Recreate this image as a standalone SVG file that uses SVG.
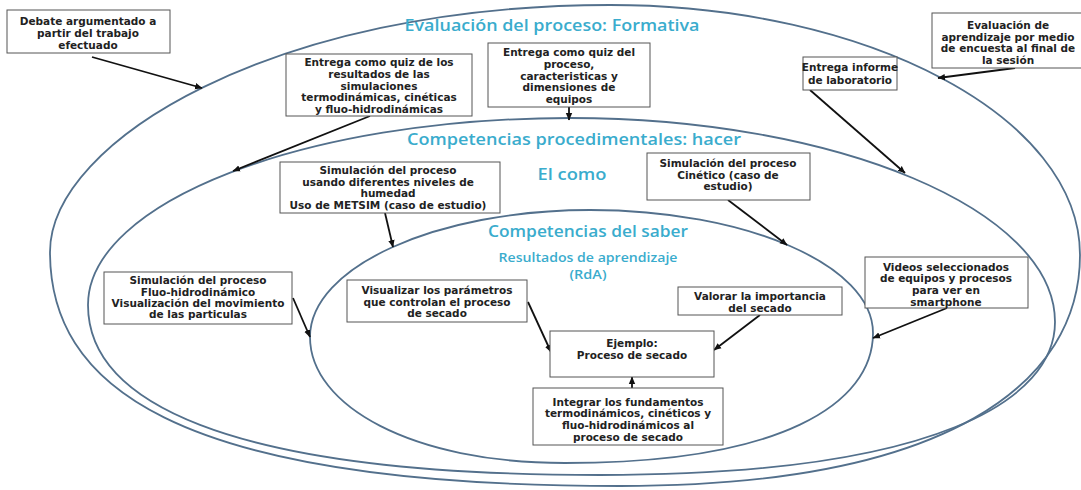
<svg xmlns="http://www.w3.org/2000/svg" width="1081" height="490" viewBox="0 0 1081 490">
<defs>
<style>
.ring{fill:none;stroke:#53708c;stroke-width:1.8}
.box{fill:#fff;stroke:#555;stroke-width:1}
.bt{font-family:"DejaVu Sans",Verdana,sans-serif;font-weight:bold;font-size:10.5px;fill:#222;text-anchor:middle}
.title{font-family:"Open Sans","Noto Sans",sans-serif;font-weight:600;fill:#3aaccd;text-anchor:middle}
.conn{fill:none;stroke:#111;stroke-width:1.8}
</style>
<marker id="ah" markerUnits="userSpaceOnUse" markerWidth="8" markerHeight="8" refX="7" refY="4" orient="auto">
<path d="M0,0.8 L7.5,4 L0,7.2 Z" fill="#111"/>
</marker>
</defs>
<rect width="1081" height="490" fill="#fff"/>
<g id="rings">
<path id="ring-evaluacion" class="ring" d="M50,252 C50,141 274,5 610,5 C868,5 1080,117 1080,255 C1080,382 951,486 620,486 C164,486 50,381 50,252 Z"/>
<path id="ring-procedimental" class="ring" d="M88,305 C88,202 305,118 570,118 C837,118 1055,210 1055,322 C1055,398 941,475 600,475 C216,475 88,398 88,305 Z"/>
<path id="ring-saber" class="ring" d="M310,337 C310,267 436,210 590,210 C746,210 873,265 873,333 C873,404 781,463 565,463 C412,463 310,406 310,337 Z"/>
</g>
<g id="titles">
<text class="title" x="552" y="31" font-size="15.5" textLength="295" lengthAdjust="spacingAndGlyphs">Evaluación del proceso: Formativa</text>
<text class="title" x="574" y="145" font-size="15.5" textLength="334" lengthAdjust="spacingAndGlyphs">Competencias procedimentales: hacer</text>
<text class="title" x="572" y="180" font-size="15.5" textLength="69" lengthAdjust="spacingAndGlyphs">El como</text>
<text class="title" x="588" y="237" font-size="15.5" textLength="200" lengthAdjust="spacingAndGlyphs">Competencias del saber</text>
<text class="title" x="588" y="262" font-size="12" textLength="179" lengthAdjust="spacingAndGlyphs">Resultados de aprendizaje</text>
<text class="title" x="588" y="279" font-size="12" textLength="37" lengthAdjust="spacingAndGlyphs">(RdA)</text>
</g>
<g id="connectors">
<line class="conn" x1="92" y1="57" x2="202" y2="88" marker-end="url(#ah)"/>
<line class="conn" x1="370" y1="116" x2="233" y2="171" marker-end="url(#ah)"/>
<line class="conn" x1="569" y1="107" x2="569" y2="120" marker-end="url(#ah)"/>
<line class="conn" x1="1015" y1="68" x2="938" y2="78" marker-end="url(#ah)"/>
<line class="conn" x1="810" y1="90" x2="905" y2="173" marker-end="url(#ah)"/>
<line class="conn" x1="385" y1="213" x2="393" y2="247" marker-end="url(#ah)"/>
<line class="conn" x1="728" y1="200" x2="787" y2="245" marker-end="url(#ah)"/>
<line class="conn" x1="293" y1="298" x2="310" y2="337" marker-end="url(#ah)"/>
<line class="conn" x1="528" y1="302" x2="551" y2="352" marker-end="url(#ah)"/>
<line class="conn" x1="760" y1="315" x2="714" y2="350" marker-end="url(#ah)"/>
<line class="conn" x1="947" y1="308" x2="873" y2="338" marker-end="url(#ah)"/>
<line class="conn" x1="632" y1="388" x2="632" y2="377" marker-end="url(#ah)"/>
</g>
<g id="n-debate"><rect class="box" x="7" y="10" width="163" height="43"/>
<text class="bt"><tspan x="88" y="25">Debate argumentado a</tspan><tspan x="88" y="37">partir del trabajo</tspan><tspan x="88" y="49">efectuado</tspan></text></g>
<g id="n-quiz-resultados"><rect class="box" x="286" y="54" width="186" height="62"/>
<text class="bt"><tspan x="379" y="66">Entrega como quiz de los</tspan><tspan x="379" y="78">resultados de las</tspan><tspan x="379" y="89.5">simulaciones</tspan><tspan x="379" y="101">termodinámicas, cinéticas</tspan><tspan x="379" y="112.5">y fluo-hidrodinámicas</tspan></text></g>
<g id="n-quiz-proceso"><rect class="box" x="488" y="43" width="162" height="64"/>
<text class="bt"><tspan x="569" y="56">Entrega como quiz del</tspan><tspan x="569" y="68">proceso,</tspan><tspan x="569" y="79.5">caracteristicas y</tspan><tspan x="569" y="91">dimensiones de</tspan><tspan x="569" y="103">equipos</tspan></text></g>
<g id="n-encuesta"><rect class="box" x="932" y="13" width="154" height="55"/>
<text class="bt"><tspan x="1008" y="29">Evaluación de</tspan><tspan x="1008" y="40.5">aprendizaje por medio</tspan><tspan x="1008" y="52">de encuesta al final de</tspan><tspan x="1008" y="63.5">la sesión</tspan></text></g>
<g id="n-informe"><rect class="box" x="803" y="57" width="94" height="33"/>
<text class="bt"><tspan x="850" y="70.5">Entrega informe</tspan><tspan x="850" y="84">de laboratorio</tspan></text></g>
<g id="n-metsim"><rect class="box" x="280" y="162" width="220" height="51"/>
<text class="bt"><tspan x="388" y="174">Simulación del proceso</tspan><tspan x="388" y="185.5">usando diferentes niveles de</tspan><tspan x="388" y="197">humedad</tspan><tspan x="388" y="208.5">Uso de METSIM (caso de estudio)</tspan></text></g>
<g id="n-cinetico"><rect class="box" x="647" y="153" width="163" height="47"/>
<text class="bt"><tspan x="728" y="167">Simulación del proceso</tspan><tspan x="728" y="178.5">Cinético (caso de</tspan><tspan x="728" y="190">estudio)</tspan></text></g>
<g id="n-fluo"><rect class="box" x="104" y="272" width="188" height="52"/>
<text class="bt"><tspan x="198" y="284">Simulación del proceso</tspan><tspan x="198" y="295.5">Fluo-hidrodinámico</tspan><tspan x="198" y="306.5">Visualización del movimiento</tspan><tspan x="198" y="317.5">de las particulas</tspan></text></g>
<g id="n-visualizar"><rect class="box" x="347" y="280" width="180" height="42"/>
<text class="bt"><tspan x="437" y="294">Visualizar los parámetros</tspan><tspan x="437" y="305.5">que controlan el proceso</tspan><tspan x="437" y="317">de secado</tspan></text></g>
<g id="n-valorar"><rect class="box" x="678" y="287" width="164" height="28"/>
<text class="bt"><tspan x="760" y="299.5">Valorar la importancia</tspan><tspan x="760" y="312">del secado</tspan></text></g>
<g id="n-videos"><rect class="box" x="865" y="257" width="163" height="51"/>
<text class="bt"><tspan x="946" y="270.5">Videos seleccionados</tspan><tspan x="946" y="282">de equipos y procesos</tspan><tspan x="946" y="294">para ver en</tspan><tspan x="946" y="305.5">smartphone</tspan></text></g>
<g id="n-ejemplo"><rect class="box" x="550" y="331" width="164" height="46"/>
<text class="bt"><tspan x="632" y="347">Ejemplo:</tspan><tspan x="632" y="359">Proceso de secado</tspan></text></g>
<g id="n-integrar"><rect class="box" x="533" y="388" width="190" height="57"/>
<text class="bt"><tspan x="628" y="405.5">Integrar los fundamentos</tspan><tspan x="628" y="417">termodinámicos, cinéticos y</tspan><tspan x="628" y="429">fluo-hidrodinámicos al</tspan><tspan x="628" y="441">proceso de secado</tspan></text></g>
</svg>
